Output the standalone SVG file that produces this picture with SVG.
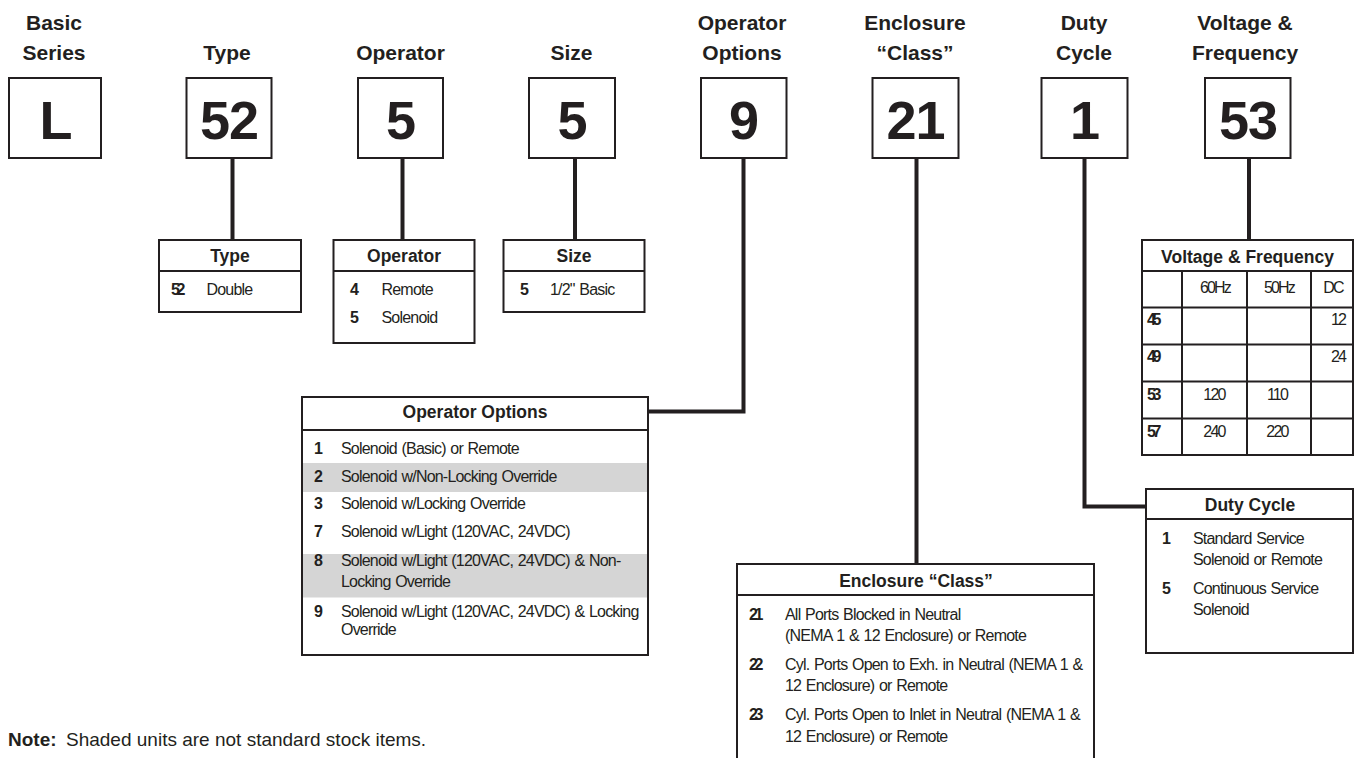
<svg xmlns="http://www.w3.org/2000/svg" width="1357" height="758" viewBox="0 0 1357 758">
  <style>
    text { font-family: "Liberation Sans", Arial, sans-serif; fill: #231f20; }
    .hd { font-size: 21px; font-weight: bold; text-anchor: middle; }
    .big { font-size: 54px; font-weight: bold; text-anchor: middle; letter-spacing: -1px; }
    .th { font-size: 17.5px; font-weight: bold; text-anchor: middle; }
    .n { font-size: 16px; font-weight: bold; }
    .n2 { font-size: 16px; font-weight: bold; letter-spacing: -3.5px; }
    .tx { font-size: 16px; letter-spacing: -0.8px; word-spacing: 1px; }
    .vc { font-size: 16px; letter-spacing: -1.8px; text-anchor: middle; }
    .box { fill: #fff; stroke: #231f20; stroke-width: 2; }
    .ln { stroke: #231f20; stroke-width: 2; fill: none; }
    .shade { fill: #d5d5d5; }
    .conn { stroke: #231f20; stroke-width: 4; fill: none; stroke-linejoin: miter; }
    .note { font-size: 19px; }
  </style>

  <!-- connectors from code boxes to their tables -->
  <g id="connectors">
    <path class="conn" d="M232.5,159 V239"/>
    <path class="conn" d="M402.5,159 V239"/>
    <path class="conn" d="M575,159 V239"/>
    <path class="conn" d="M743.5,159 V411.5 H648"/>
    <path class="conn" d="M916.5,159 V564"/>
    <path class="conn" d="M1084.5,159 V506.5 H1146"/>
    <path class="conn" d="M1249,159 V240"/>
  </g>

  <!-- code boxes with headings -->
  <g id="basic-series">
    <text class="hd" x="54" y="30">Basic</text>
    <text class="hd" x="54" y="60">Series</text>
    <rect class="box" x="9" y="78" width="92" height="80"/>
    <text class="big" x="55.5" y="139">L</text>
  </g>
  <g id="type">
    <text class="hd" x="227" y="60">Type</text>
    <rect class="box" x="186.5" y="78" width="85" height="80"/>
    <text class="big" x="229" y="139">52</text>
  </g>
  <g id="operator">
    <text class="hd" x="400.5" y="60">Operator</text>
    <rect class="box" x="358" y="78" width="85" height="80"/>
    <text class="big" x="400.5" y="139">5</text>
  </g>
  <g id="size">
    <text class="hd" x="571.5" y="60">Size</text>
    <rect class="box" x="529" y="78" width="86" height="80"/>
    <text class="big" x="572" y="139">5</text>
  </g>
  <g id="operator-options">
    <text class="hd" x="742" y="30">Operator</text>
    <text class="hd" x="742" y="60">Options</text>
    <rect class="box" x="701" y="78" width="85.5" height="80"/>
    <text class="big" x="743.5" y="139">9</text>
  </g>
  <g id="enclosure-class">
    <text class="hd" x="915" y="30">Enclosure</text>
    <text class="hd" x="915" y="60">“Class”</text>
    <rect class="box" x="872.5" y="78" width="86" height="80"/>
    <text class="big" x="915.5" y="139">21</text>
  </g>
  <g id="duty-cycle">
    <text class="hd" x="1084" y="30">Duty</text>
    <text class="hd" x="1084" y="60">Cycle</text>
    <rect class="box" x="1041.5" y="78" width="86" height="80"/>
    <text class="big" x="1084.5" y="139">1</text>
  </g>
  <g id="voltage-frequency">
    <text class="hd" x="1245" y="30">Voltage &amp;</text>
    <text class="hd" x="1245" y="60">Frequency</text>
    <rect class="box" x="1205" y="78" width="85.5" height="80"/>
    <text class="big" x="1248" y="139">53</text>
  </g>

  <!-- Type table -->
  <g id="type-table">
    <rect class="box" x="159" y="240" width="142" height="72"/>
    <line class="ln" x1="159" y1="271" x2="301" y2="271"/>
    <text class="th" x="230" y="262">Type</text>
    <text class="n2" x="171" y="295">52</text>
    <text class="tx" x="206.5" y="295">Double</text>
  </g>

  <!-- Operator table -->
  <g id="operator-table">
    <rect class="box" x="333.5" y="240" width="141" height="103"/>
    <line class="ln" x1="333.5" y1="271" x2="474.5" y2="271"/>
    <text class="th" x="404" y="262">Operator</text>
    <text class="n" x="350" y="295">4</text>
    <text class="tx" x="381.5" y="295">Remote</text>
    <text class="n" x="350" y="323">5</text>
    <text class="tx" x="381.5" y="323">Solenoid</text>
  </g>

  <!-- Size table -->
  <g id="size-table">
    <rect class="box" x="503.5" y="240" width="141" height="72"/>
    <line class="ln" x1="503.5" y1="271" x2="644.5" y2="271"/>
    <text class="th" x="574" y="262">Size</text>
    <text class="n" x="520" y="295">5</text>
    <text class="tx" x="550" y="295">1/2" Basic</text>
  </g>

  <!-- Operator Options table -->
  <g id="operator-options-table">
    <rect class="box" x="302" y="397" width="346" height="258"/>
    <rect class="shade" x="303" y="463" width="344" height="29"/>
    <rect class="shade" x="303" y="554" width="344" height="43.5"/>
    <line class="ln" x1="302" y1="430" x2="648" y2="430"/>
    <text class="th" x="475" y="418">Operator Options</text>
    <text class="n" x="314" y="453.5">1</text>
    <text class="tx" x="341" y="453.5">Solenoid (Basic) or Remote</text>
    <text class="n" x="314" y="481.5">2</text>
    <text class="tx" x="341" y="481.5">Solenoid w/Non-Locking Override</text>
    <text class="n" x="314" y="509">3</text>
    <text class="tx" x="341" y="509">Solenoid w/Locking Override</text>
    <text class="n" x="314" y="537">7</text>
    <text class="tx" x="341" y="537">Solenoid w/Light (120VAC, 24VDC)</text>
    <text class="n" x="314" y="565.5">8</text>
    <text class="tx" x="341" y="565.5">Solenoid w/Light (120VAC, 24VDC) &amp; Non-</text>
    <text class="tx" x="341" y="587">Locking Override</text>
    <text class="n" x="314" y="617">9</text>
    <text class="tx" x="341" y="617">Solenoid w/Light (120VAC, 24VDC) &amp; Locking</text>
    <text class="tx" x="341" y="635">Override</text>
  </g>

  <!-- Enclosure "Class" table (runs off the bottom edge) -->
  <g id="enclosure-table">
    <rect class="box" x="737" y="564" width="357" height="220"/>
    <line class="ln" x1="737" y1="595" x2="1094" y2="595"/>
    <text class="th" x="916" y="586.5">Enclosure “Class”</text>
    <text class="n2" x="749" y="619.5">21</text>
    <text class="tx" x="785" y="619.5">All Ports Blocked in Neutral</text>
    <text class="tx" x="785" y="641">(NEMA 1 &amp; 12 Enclosure) or Remote</text>
    <text class="n2" x="749" y="669.5">22</text>
    <text class="tx" x="785" y="669.5">Cyl. Ports Open to Exh. in Neutral (NEMA 1 &amp;</text>
    <text class="tx" x="785" y="691">12 Enclosure) or Remote</text>
    <text class="n2" x="749" y="720">23</text>
    <text class="tx" x="785" y="720">Cyl. Ports Open to Inlet in Neutral (NEMA 1 &amp;</text>
    <text class="tx" x="785" y="741.5">12 Enclosure) or Remote</text>
  </g>

  <!-- Duty Cycle table -->
  <g id="duty-cycle-table">
    <rect class="box" x="1146" y="489" width="207" height="164"/>
    <line class="ln" x1="1146" y1="519" x2="1353" y2="519"/>
    <text class="th" x="1250" y="511">Duty Cycle</text>
    <text class="n" x="1162" y="543.5">1</text>
    <text class="tx" x="1193" y="543.5">Standard Service</text>
    <text class="tx" x="1193" y="565">Solenoid or Remote</text>
    <text class="n" x="1162" y="593.5">5</text>
    <text class="tx" x="1193" y="593.5">Continuous Service</text>
    <text class="tx" x="1193" y="615">Solenoid</text>
  </g>

  <!-- Voltage & Frequency table -->
  <g id="voltage-table">
    <rect class="box" x="1142" y="240" width="211" height="215"/>
    <line class="ln" x1="1142" y1="271" x2="1353" y2="271"/>
    <line class="ln" x1="1142" y1="307.5" x2="1353" y2="307.5"/>
    <line class="ln" x1="1142" y1="344.5" x2="1353" y2="344.5"/>
    <line class="ln" x1="1142" y1="381.5" x2="1353" y2="381.5"/>
    <line class="ln" x1="1142" y1="418.5" x2="1353" y2="418.5"/>
    <line class="ln" x1="1182" y1="271" x2="1182" y2="455"/>
    <line class="ln" x1="1247" y1="271" x2="1247" y2="455"/>
    <line class="ln" x1="1311" y1="271" x2="1311" y2="455"/>
    <text class="th" x="1247.5" y="263">Voltage &amp; Frequency</text>
    <text class="vc" x="1215" y="292.5">60Hz</text>
    <text class="vc" x="1279" y="292.5">50Hz</text>
    <text class="vc" x="1333" y="292.5">DC</text>
    <text class="n2" x="1147" y="325">45</text>
    <text class="n2" x="1147" y="362">49</text>
    <text class="n2" x="1147" y="400">53</text>
    <text class="n2" x="1147" y="437">57</text>
    <text class="vc" x="1338" y="325">12</text>
    <text class="vc" x="1338" y="362">24</text>
    <text class="vc" x="1214" y="400">120</text>
    <text class="vc" x="1277" y="400">110</text>
    <text class="vc" x="1214" y="437">240</text>
    <text class="vc" x="1277" y="437">220</text>
  </g>

  <!-- footnote -->
  <g id="note">
    <text class="note" x="8" y="746" font-weight="bold">Note:</text>
    <text class="note" x="66" y="746">Shaded units are not standard stock items.</text>
  </g>
</svg>
